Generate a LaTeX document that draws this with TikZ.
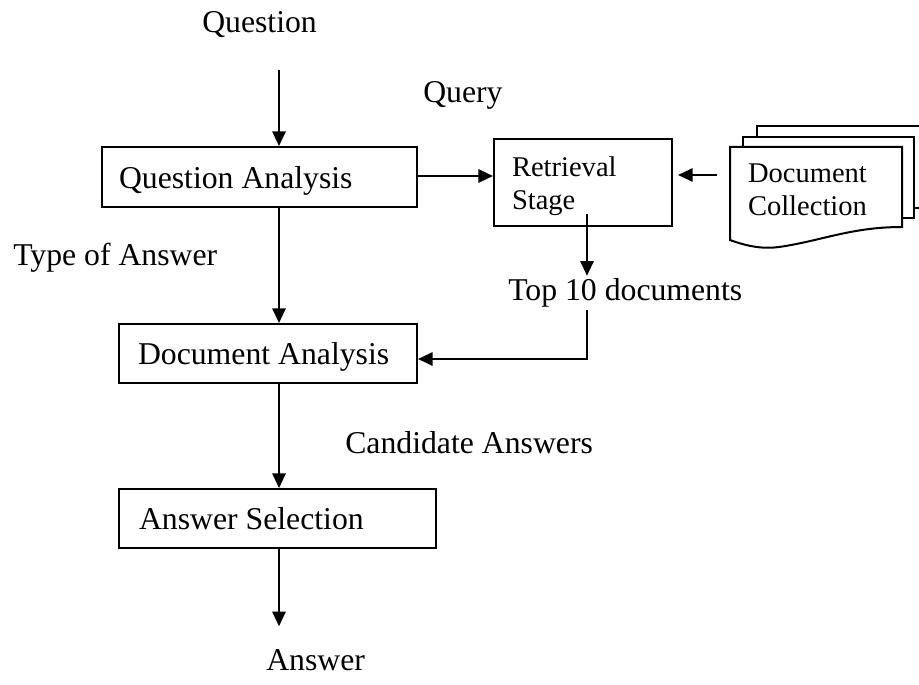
\documentclass[tikz,border=0pt]{standalone}
\usepackage{fontspec}
\setmainfont{Liberation Serif}
\usetikzlibrary{arrows.meta,calc}

\begin{document}
\begin{tikzpicture}[x=0.75pt,y=-0.75pt,
  every node/.style={font=\fontsize{23.8}{28}\selectfont},
  box/.style={draw,line width=1.5pt,rectangle,align=flush left,inner ysep=0pt,text depth=0pt},
  smallbox/.style={box,font=\fontsize{21.4}{24.75}\selectfont},
  lbl/.style={inner sep=0pt,anchor=base west},
  arr/.style={line width=1.5pt,-{Triangle[length=11pt,width=10pt]}},
  sheet/.style={line width=1.5pt,line join=miter}]
\clip (0,0) rectangle (919,684);

% process boxes
\node[box,minimum width=236.25pt,minimum height=45pt,inner xsep=12.75pt,text width=210.75pt]
  (qa) at (259.5,177) {Question Analysis};
\node[box,minimum width=223.5pt,minimum height=44.25pt,inner xsep=14.25pt,text width=195pt]
  (da) at (268,353.5) {Document Analysis};
\node[box,minimum width=237.75pt,minimum height=44.25pt,inner xsep=15pt,text width=207.75pt]
  (as) at (277.5,518.5) {Answer Selection};
\node[smallbox,minimum width=133.5pt,minimum height=65.25pt,inner xsep=13.5pt,text width=106.5pt,
  text depth=23.4pt] (rs) at (583,182.5) {Retrieval\\Stage};

% document collection: front sheet with wavy bottom, two sheets behind it
\node[smallbox,draw=none,minimum width=127.5pt,minimum height=58.5pt,inner xsep=12.75pt,text width=102pt,
  text depth=20.25pt] (dc) at (816,187) {Document\\Collection};
\draw[sheet] (dc.north west) -- (dc.north east) -- (dc.south east)
  .. controls ($(dc.south east)+(-51,0)$) and ($(dc.south east)+(-81,14)$) .. ($(dc.south west)+(49,20)$)
  .. controls ($(dc.south west)+(34,22)$) and ($(dc.south west)+(19,20)$) .. ($(dc.south west)+(0,13)$)
  -- cycle;
\draw[sheet] ($(dc.north west)+(13,0)$) -- ++(0,-10) -- ($(dc.north east)+(12,-10)$)
  -- ($(dc.south east)+(12,-9)$) -- ($(dc.south east)+(0,-9)$);
\draw[sheet] ($(dc.north west)+(27,-10)$) -- ++(0,-11) -- ($(dc.north east)+(29,-21)$)
  -- ($(dc.south east)+(29,-19)$) -- ($(dc.south east)+(12,-19)$);

% labels
\node[lbl] (q)   at (202,33)  {Question};
\node[lbl] (qry) at (423,103) {Query};
\node[lbl] (toa) at (13,265)  {Type of Answer};
\node[lbl] (top) at (508,300) {Top 10 documents};
\node[lbl] (ca)  at (345,453) {Candidate Answers};
\node[lbl] (ans) at (266,670) {Answer};

% connector anchors
\coordinate (spine) at (279,70);
\coordinate (rsout) at (587,214);
\coordinate (elbow) at (587,359);
\coordinate (dcin)  at (717,175);

% connectors
\draw[arr] (spine) -- (spine |- qa.north);
\draw[arr] (qa.east |- 0,176) -- (rs.west |- 0,176);
\draw[arr] (spine |- qa.south) -- (spine |- da.north);
\draw[arr] (spine |- da.south) -- (spine |- as.north);
\draw[arr,shorten >=16.9pt] (spine |- as.south) -- (spine |- ans.north);
\draw[arr,shorten >=1.5pt] (rsout) -- (rsout |- top.north);
\draw[arr,shorten <=2.25pt] (rsout |- top.south) -- (elbow) -- (elbow -| da.east);
\draw[arr,shorten >=3.75pt] (dcin) -- (dcin -| rs.east);
\end{tikzpicture}
\end{document}
